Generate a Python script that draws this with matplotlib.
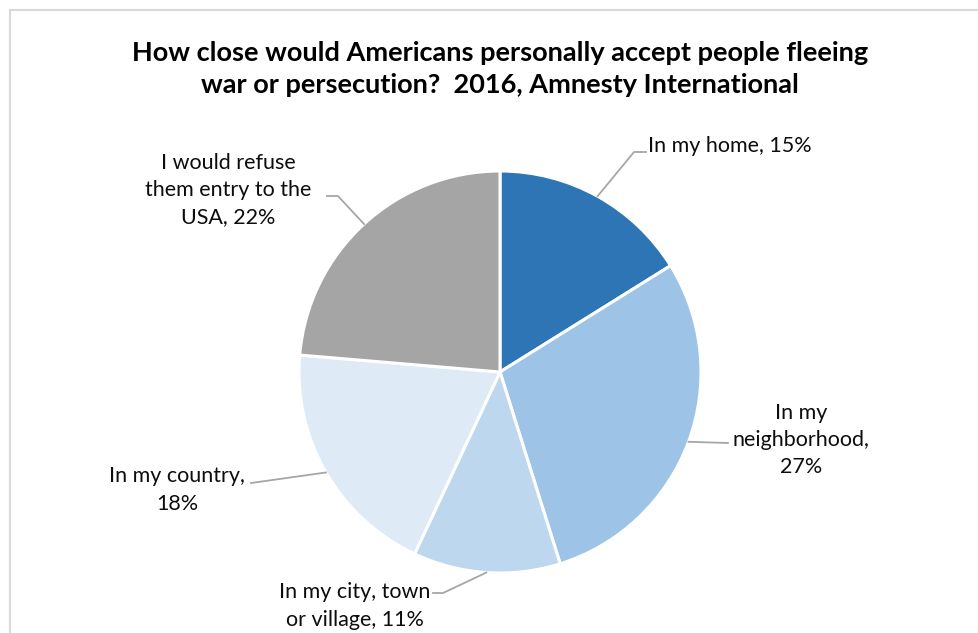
import numpy as np
import matplotlib.pyplot as plt
from matplotlib.patches import Rectangle

# data
labels = ['In my home', 'In my neighborhood', 'In my city, town\nor village',
          'In my country', 'I would refuse\nthem entry to the\nUSA']
values = [15, 27, 11, 18, 22]
label_texts = ['In my home, 15%', 'In my\nneighborhood,\n27%',
               'In my city, town\nor village, 11%', 'In my country,\n18%',
               'I would refuse\nthem entry to the\nUSA, 22%']
slice_colors = ['#2E75B6', '#9DC3E6', '#BDD7EE', '#DEEBF7', '#A5A5A5']
title = 'How close would Americans personally accept people fleeing\nwar or persecution?  2016, Amnesty International'

W, H = 979, 633
cx, cy, R = 500, 372, 201

plt.rcParams['font.family'] = ['Lato', 'DejaVu Sans']

fig = plt.figure(figsize=(W / 100, H / 100), dpi=100)
fig.patch.set_facecolor('white')

# chart border (cropped on right / bottom)
fig.patches.append(Rectangle((10 / W, -0.1), 1.1, (H - 10) / H + 0.1,
                             transform=fig.transFigure, fill=False,
                             edgecolor='#D9D9D9', linewidth=1.5))

ax = fig.add_axes([(cx - R) / W, (H - cy - R) / H, 2 * R / W, 2 * R / H])
wedges, _ = ax.pie(values, colors=slice_colors, startangle=90, counterclock=False,
                   radius=1, wedgeprops=dict(edgecolor='white', linewidth=2.2))
ax.set_xlim(-1, 1)
ax.set_ylim(-1, 1)
ax.set_aspect('equal')
ax.axis('off')


def px(x, y):
    # pixel position -> data coords of the pie axes
    return (x - cx) / R, (cy - y) / R


# label placement (pixels): text centre, alignment, leader path after the wedge edge
layout = [
    dict(pos=(648, 146), ha='left', path=[(634, 152), (646, 152)]),
    dict(pos=(801, 440), ha='center', path=[(728, 443)]),
    dict(pos=(355, 606), ha='center', path=[(443, 593), (433, 593)]),
    dict(pos=(177, 490), ha='center', path=[(251, 483)]),
    dict(pos=(228, 190), ha='center', path=[(338, 196), (327, 196)]),
]

for w, txt, lay in zip(wedges, label_texts, layout):
    mid = np.deg2rad((w.theta1 + w.theta2) / 2)
    pts = [(np.cos(mid), np.sin(mid))] + [px(*p) for p in lay['path']]
    xs, ys = zip(*pts)
    ax.plot(xs, ys, color='#A6A6A6', linewidth=1.3, clip_on=False)
    tx, ty = px(*lay['pos'])
    ax.text(tx, ty, txt, ha=lay['ha'], va='center', multialignment='center',
            fontsize=15.5, color='#0D0D0D', linespacing=1.45, clip_on=False)

fig.text(500 / W, 1 - 69 / H, title, ha='center', va='center', fontsize=19.5,
         fontweight='bold', color='#000000', linespacing=1.38)

fig.savefig('out.png', dpi=100, facecolor='white')
